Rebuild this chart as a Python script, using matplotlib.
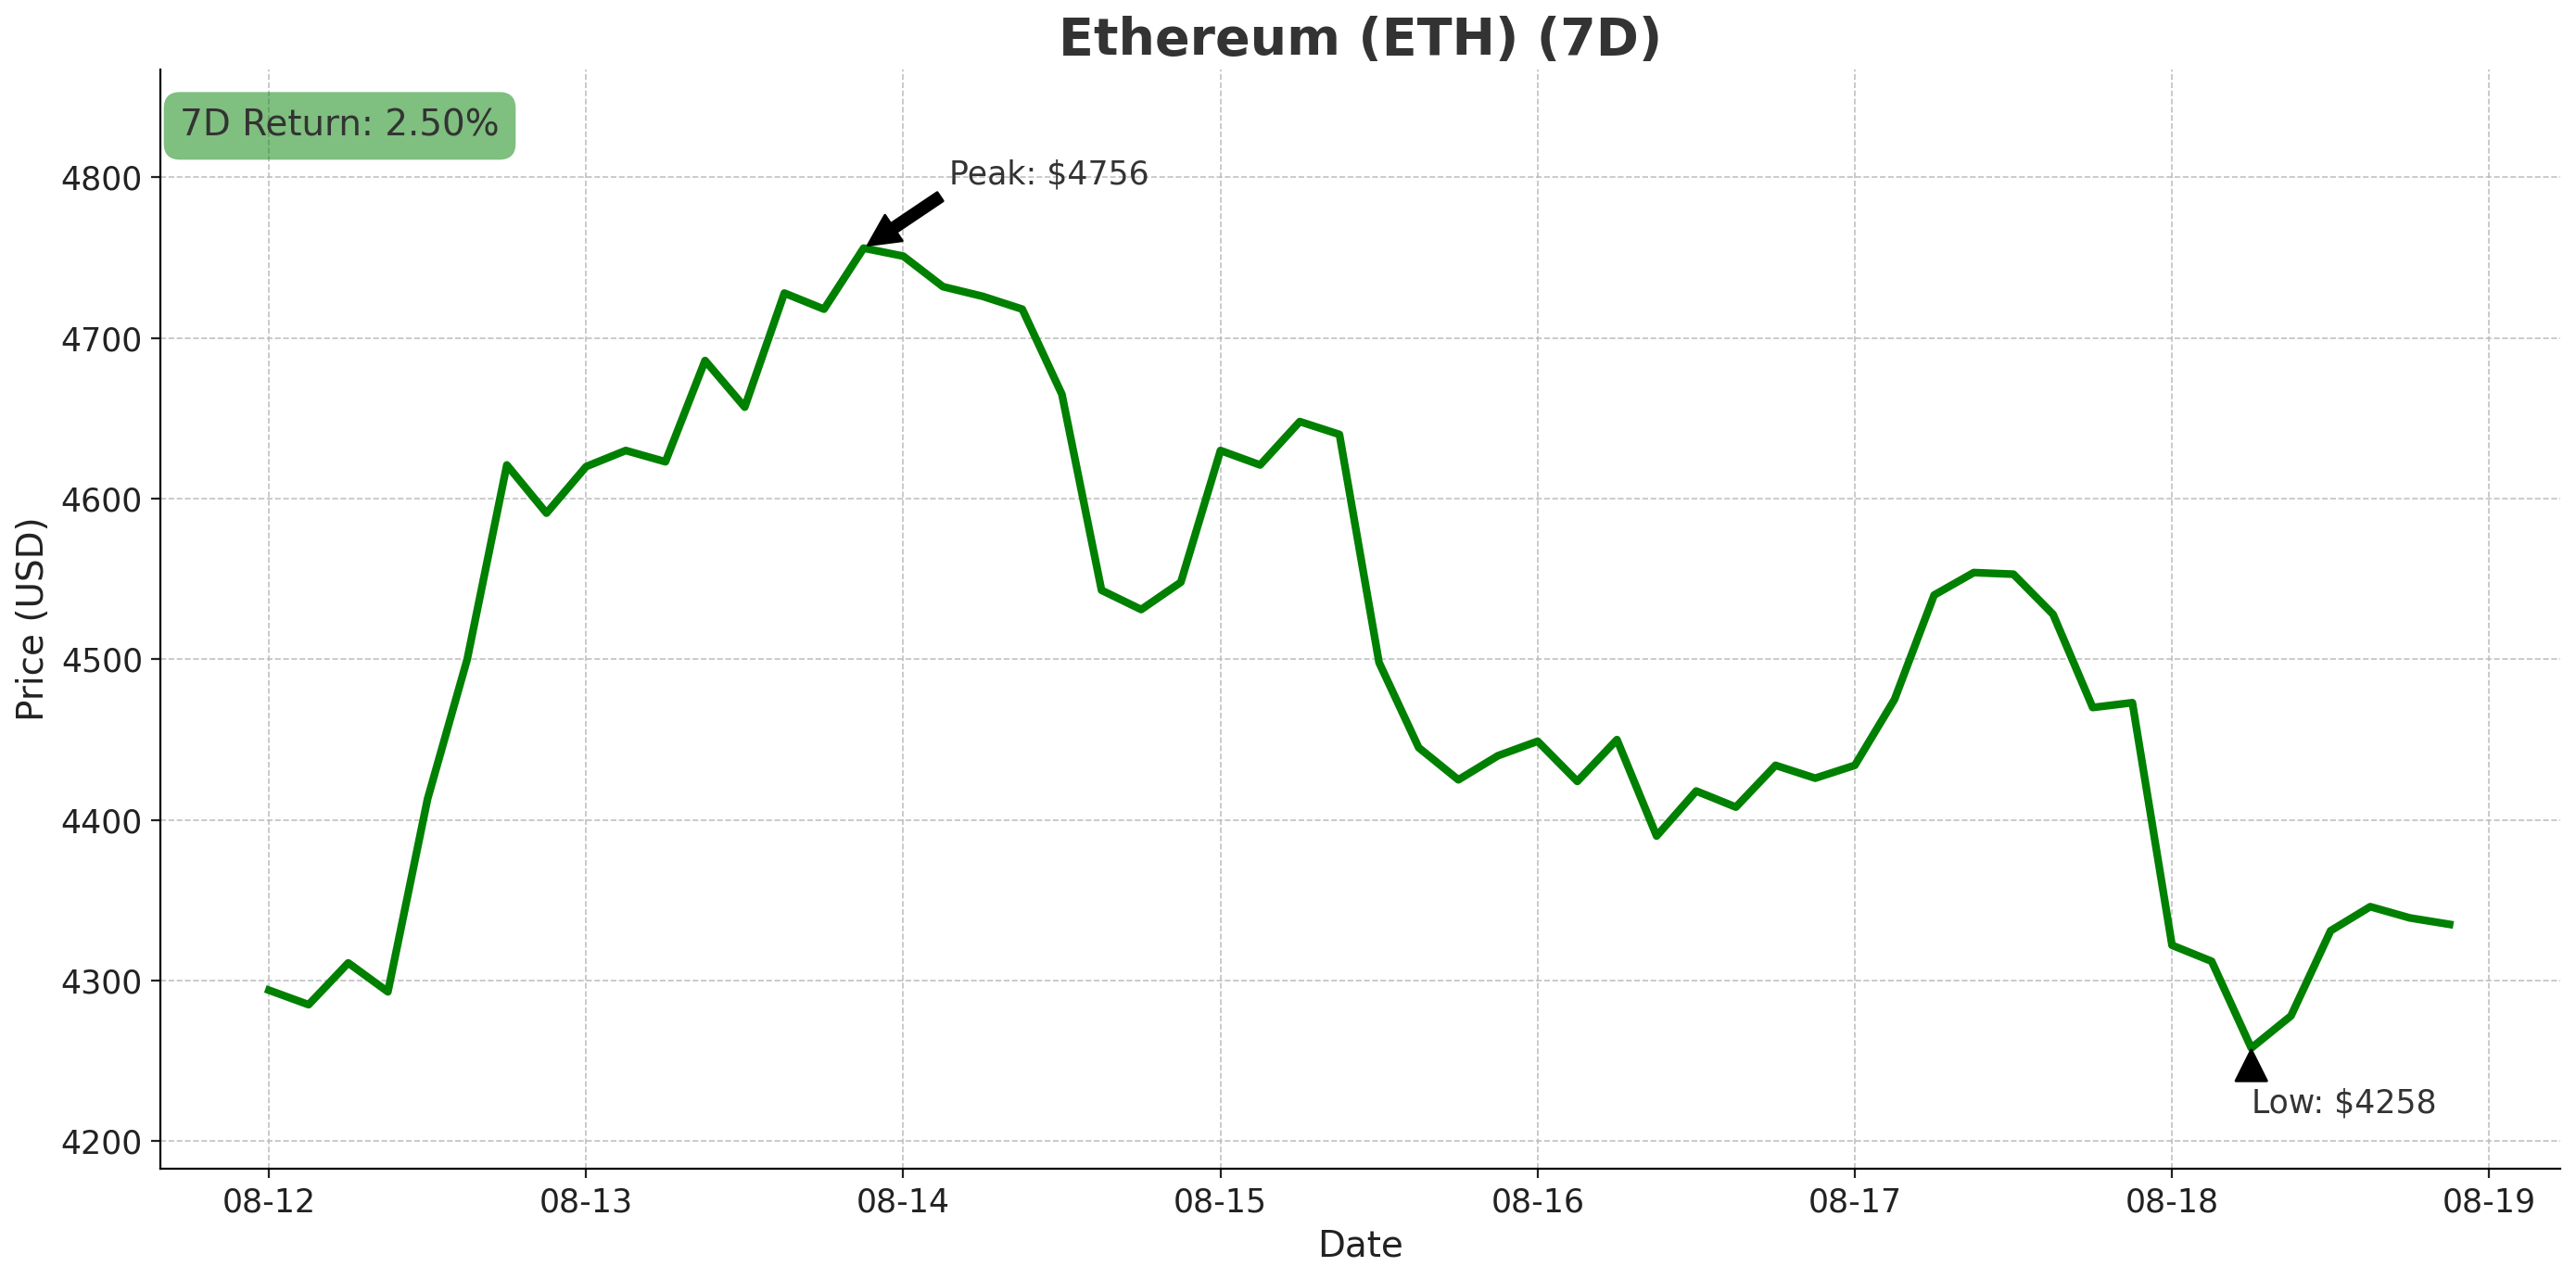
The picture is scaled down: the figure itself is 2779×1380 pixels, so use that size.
import matplotlib
matplotlib.use("Agg")
import matplotlib.pyplot as plt
import matplotlib.dates as mdates
import numpy as np
import pandas as pd

start = "2025-08-12 00:00"
prices = [4294, 4285, 4311, 4293, 4413, 4500, 4621, 4591,
          4620, 4630, 4623, 4686, 4657, 4728, 4718, 4756,
          4751, 4732, 4726, 4718, 4665, 4543, 4531, 4548,
          4630, 4621, 4648, 4640, 4498, 4445, 4425, 4440,
          4449, 4424, 4450, 4390, 4418, 4408, 4434, 4426,
          4434, 4475, 4540, 4554, 4553, 4528, 4470, 4473,
          4322, 4312, 4258, 4278, 4331, 4346, 4339, 4335]
title = "Ethereum (ETH) (7D)"
ret_label = "7D Return: 2.50%"

dates = pd.date_range(start, periods=len(prices), freq="3h")
p = np.array(prices)

fig, ax = plt.subplots(figsize=(13.895, 6.9), dpi=200)
ax.plot(dates, p, color="green", linewidth=3)

ax.set_title(title, fontsize=20, fontweight="bold", color="#333333")
ax.set_xlabel("Date", fontsize=14, color="#222222")
ax.set_ylabel("Price (USD)", fontsize=14, color="#222222")
ax.tick_params(labelsize=12.5, colors="#222222")
ax.grid(True, linestyle="--", linewidth=0.6, color="#bbbbbb", alpha=0.9)
ax.spines["top"].set_visible(False)
ax.spines["right"].set_visible(False)
ax.xaxis.set_major_formatter(mdates.DateFormatter("%m-%d"))
ax.xaxis.set_major_locator(mdates.DayLocator())

t0 = pd.Timestamp(start)
ax.set_xlim(t0 - pd.Timedelta(days=0.341), t0 + pd.Timedelta(days=7.225))
ax.set_ylim(4183, 4867)

ax.text(0.008, 0.965, ret_label, transform=ax.transAxes, fontsize=14, va="top",
        color="#333333",
        bbox=dict(boxstyle="round,pad=0.45", facecolor="green", alpha=0.5, edgecolor="none"))

ip, il = int(p.argmax()), int(p.argmin())
ax.annotate(f"Peak: ${p[ip]}", xy=(dates[ip], p[ip]),
            xytext=(dates[ip] + pd.Timedelta(hours=6.5), p[ip] + 40),
            fontsize=12.5, color="#333333",
            arrowprops=dict(facecolor="black", edgecolor="black", shrink=0.05, width=4, headwidth=12))
ax.annotate(f"Low: ${p[il]}", xy=(dates[il], p[il]),
            xytext=(dates[il], p[il] - 40),
            fontsize=12.5, color="#333333",
            arrowprops=dict(facecolor="black", edgecolor="black", shrink=0.05, width=4, headwidth=12))

fig.tight_layout(pad=0.6)
fig.savefig("out.png")
